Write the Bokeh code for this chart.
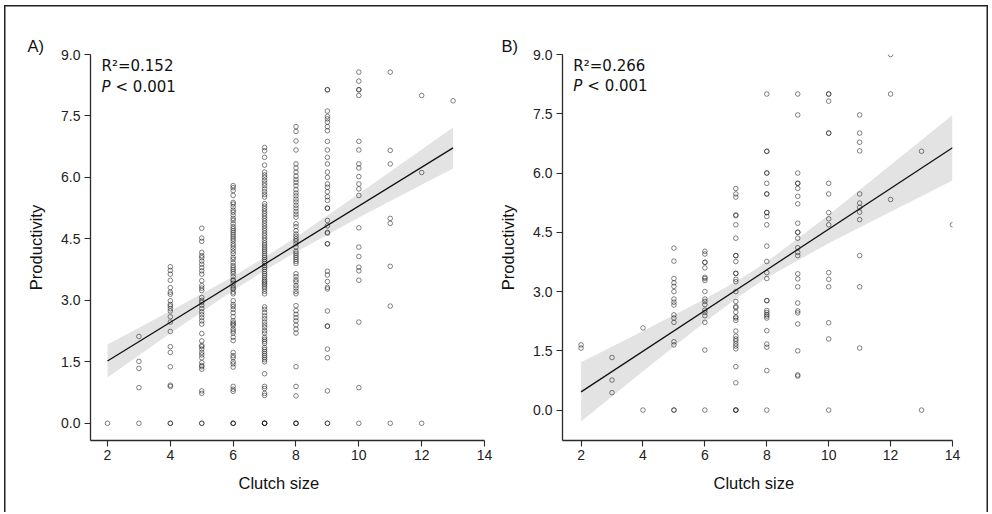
from bokeh.plotting import figure
from bokeh.layouts import row
from bokeh.models import Label, FixedTicker, NumeralTickFormatter, Title
from bokeh.embed import file_html
from bokeh.resources import INLINE

# ---------------- Panel A data (productivity by clutch size) ----------------
A_2 = [0.0]
A_3 = [0.0, 0.87, 1.34, 1.51, 2.12]
A_4 = [0.0, 0.0, 0.90, 0.93, 1.38, 1.73, 1.87, 2.24, 2.47, 2.60, 2.74, 2.80, 2.86,
       2.90, 2.99, 3.15, 3.20, 3.31, 3.49, 3.64, 3.73, 3.82]
A_5 = [0.0, 0.0, 0.73, 0.79, 1.32, 1.38, 1.41, 1.48, 1.60, 1.67, 1.73, 1.81, 1.87,
       1.90, 2.01, 2.19, 2.42, 2.50, 2.58, 2.65, 2.72, 2.80, 2.88, 2.95, 3.00, 3.07,
       3.24, 3.30, 3.36, 3.48, 3.64, 3.72, 3.80, 3.88, 3.96, 4.04, 4.09, 4.17, 4.44,
       4.52, 4.76]
A_6 = [0.0, 0.0, 0.0, 0.78, 0.83, 0.90, 1.37, 1.45, 1.50, 1.60, 1.65, 1.73, 2.02,
       2.10, 2.20, 2.25, 2.30, 2.38, 2.42, 2.45, 2.50, 2.60, 2.70, 2.78, 2.85, 2.90,
       2.99, 3.16, 3.20, 3.27, 3.30, 3.35, 3.42, 3.48, 3.50, 3.58, 3.65, 3.70, 3.75,
       3.80, 3.85, 3.92, 4.00, 4.05, 4.14, 4.20, 4.27, 4.33, 4.38, 4.45, 4.50, 4.55,
       4.60, 4.65, 4.70, 4.75, 4.80, 4.87, 4.95, 5.00, 5.08, 5.15, 5.20, 5.28, 5.35,
       5.39, 5.56, 5.68, 5.75, 5.80]
A_7 = [0.0, 0.0, 0.0, 0.0, 0.68, 0.73, 0.85, 0.90, 1.21, 1.50, 1.55, 1.60, 1.65,
       1.70, 1.75, 1.80, 1.85, 1.95, 2.00, 2.05, 2.10, 2.20, 2.26, 2.34, 2.40, 2.47,
       2.55, 2.62, 2.70, 2.78, 2.84, 3.16, 3.22, 3.28, 3.33, 3.38, 3.42, 3.46, 3.50,
       3.55, 3.60, 3.65, 3.70, 3.75, 3.80, 3.85, 3.90, 3.95, 4.00, 4.05, 4.10, 4.15,
       4.20, 4.25, 4.30, 4.35, 4.40, 4.46, 4.52, 4.58, 4.64, 4.70, 4.76, 4.82, 4.88,
       4.94, 5.00, 5.06, 5.12, 5.18, 5.24, 5.30, 5.36, 5.52, 5.58, 5.65, 5.72, 5.80,
       5.86, 5.93, 6.00, 6.06, 6.13, 6.30, 6.49, 6.65, 6.73]
A_8 = [0.0, 0.0, 0.0, 0.67, 0.90, 1.38, 2.20, 2.30, 2.40, 2.50, 2.58, 2.66, 2.75,
       2.87, 3.16, 3.22, 3.30, 3.36, 3.45, 3.50, 3.58, 3.65, 3.90, 3.95, 4.00, 4.05,
       4.10, 4.15, 4.20, 4.30, 4.38, 4.45, 4.50, 4.56, 4.62, 4.70, 4.80, 4.87, 5.03,
       5.10, 5.17, 5.25, 5.32, 5.40, 5.47, 5.55, 5.62, 5.70, 5.80, 5.88, 5.95, 6.03,
       6.13, 6.23, 6.33, 6.67, 6.89, 7.12, 7.24]
A_9 = [0.0, 0.0, 0.79, 1.60, 1.81, 2.37, 2.37, 2.74, 3.28, 3.32, 3.46, 3.62, 3.71,
       4.38, 4.38, 4.64, 4.66, 4.82, 4.95, 5.25, 5.25, 5.44, 5.53, 5.65, 5.76, 5.84,
       6.00, 6.13, 6.33, 6.49, 6.67, 6.88, 7.14, 7.24, 7.35, 7.43, 7.49, 7.62, 8.14,
       8.14]
A_10 = [0.0, 0.87, 2.47, 3.49, 3.72, 3.81, 4.07, 4.30, 4.77, 5.56, 5.72, 5.84, 6.02,
        6.23, 6.33, 6.67, 6.88, 8.00, 8.14, 8.14, 8.35, 8.57]
A_11 = [0.0, 2.86, 3.83, 4.88, 5.00, 6.33, 6.66, 8.57]
A_12 = [0.0, 6.12, 8.00]
A_13 = [7.87]

A_fit_x = [2, 13]
A_fit_y = [1.52, 6.72]
A_band_x = [2, 4, 6, 7, 8, 10, 12, 13]
A_band_lo = [1.12, 2.20, 3.24, 3.73, 4.18, 5.02, 5.82, 6.22]
A_band_hi = [1.92, 2.74, 3.58, 4.05, 4.54, 5.60, 6.68, 7.22]

# ---------------- Panel B data ----------------
B_2 = [1.57, 1.65]
B_3 = [0.44, 0.76, 1.33]
B_4 = [0.0, 2.08]
B_5 = [0.0, 0.0, 1.65, 1.73, 2.22, 2.33, 2.41, 2.66, 2.73, 2.81, 3.00, 3.13, 3.22,
       3.33, 3.77, 4.10]
B_6 = [0.0, 1.52, 2.22, 2.39, 2.47, 2.53, 2.67, 2.75, 2.81, 3.00, 3.28, 3.33, 3.36,
       3.60, 3.74, 3.74, 3.95, 4.02]
B_7 = [0.0, 0.0, 0.0, 0.69, 1.10, 1.55, 1.62, 1.68, 1.75, 1.80, 1.87, 2.00, 2.27,
       2.33, 2.36, 2.48, 2.59, 2.62, 2.75, 3.00, 3.25, 3.31, 3.46, 3.46, 3.76, 3.91,
       3.91, 4.35, 4.69, 4.92, 4.94, 5.39, 5.47, 5.61]
B_8 = [0.0, 1.00, 1.59, 1.67, 2.01, 2.33, 2.38, 2.42, 2.47, 2.52, 2.77, 2.77, 3.33,
       3.48, 3.76, 4.15, 4.69, 4.90, 5.00, 5.00, 5.47, 5.47, 5.74, 6.00, 6.00, 6.55,
       6.55, 8.00]
B_9 = [0.86, 0.89, 1.50, 2.18, 2.46, 2.51, 2.71, 3.12, 3.32, 3.45, 3.91, 3.99, 4.11,
       4.35, 4.50, 4.50, 4.73, 5.22, 5.41, 5.61, 5.74, 5.74, 6.00, 7.47, 8.00]
B_10 = [0.0, 1.80, 2.21, 3.12, 3.31, 3.48, 4.69, 4.84, 5.00, 5.47, 5.74, 7.01, 7.01,
        7.82, 8.00, 8.00]
B_11 = [1.57, 3.12, 3.91, 4.82, 5.01, 5.13, 5.24, 5.47, 6.56, 6.78, 7.01, 7.47]
B_12 = [5.33, 8.00, 9.00]
B_13 = [0.0, 6.55]
B_14 = [4.69]

B_fit_x = [2, 14]
B_fit_y = [0.46, 6.64]
B_band_x = [2, 4, 6, 7, 8, 10, 12, 14]
B_band_lo = [-0.29, 0.98, 2.23, 2.82, 3.35, 4.22, 5.02, 5.81]
B_band_hi = [1.21, 2.00, 2.81, 3.25, 3.75, 4.94, 6.20, 7.47]

x_ticks = [2, 4, 6, 8, 10, 12, 14]
y_ticks = [0.0, 1.5, 3.0, 4.5, 6.0, 7.5, 9.0]
x_label = "Clutch size"
y_label = "Productivity"

A_groups = {2: A_2, 3: A_3, 4: A_4, 5: A_5, 6: A_6, 7: A_7, 8: A_8, 9: A_9,
            10: A_10, 11: A_11, 12: A_12, 13: A_13}
B_groups = {2: B_2, 3: B_3, 4: B_4, 5: B_5, 6: B_6, 7: B_7, 8: B_8, 9: B_9,
            10: B_10, 11: B_11, 12: B_12, 13: B_13, 14: B_14}

SANS = "Liberation Sans"
VERD = "DejaVu Sans"
AX = "#2b2b2b"


def panel(tag, groups, fit_x, fit_y, bx, blo, bhi, r2, xr, yr, bl, br, tag_off,
          xlab_off):
    p = figure(width=496, height=512, x_range=xr, y_range=yr,
               output_backend="svg", toolbar_location=None,
               min_border_left=bl, min_border_right=br,
               min_border_top=54, min_border_bottom=72)
    p.outline_line_color = None
    p.grid.visible = False
    p.background_fill_color = "white"
    p.border_fill_color = None

    p.title.text = tag
    p.title.align = "left"
    p.title.offset = tag_off
    p.title.standoff = 0
    p.title.text_font = SANS
    p.title.text_font_size = "16.5px"
    p.title.text_font_style = "normal"
    p.title.text_color = "#111111"

    xs, ys = [], []
    for k, vals in groups.items():
        xs += [k] * len(vals)
        ys += vals

    p.varea(x=bx, y1=blo, y2=bhi, fill_color="#e3e3e3", fill_alpha=1.0)
    p.scatter(xs, ys, marker="circle", size=4.6, fill_color=None,
              line_color="#1a1a1a", line_alpha=0.6, line_width=0.9)
    p.line(fit_x, fit_y, line_color="#111111", line_width=1.3)

    for ax in (p.xaxis[0], p.yaxis[0]):
        ax.axis_line_color = AX
        ax.axis_line_width = 1.3
        ax.major_tick_line_color = AX
        ax.major_tick_line_width = 1.1
        ax.major_tick_out = 6
        ax.major_tick_in = 0
        ax.minor_tick_line_color = None
        ax.major_label_text_font = SANS
        ax.major_label_text_font_size = "14px"
        ax.major_label_text_color = "#222222"
        ax.axis_label_text_font = SANS
        ax.axis_label_text_font_size = "16.5px"
        ax.axis_label_text_font_style = "normal"
        ax.axis_label_text_color = "#111111"

    p.xaxis.ticker = FixedTicker(ticks=x_ticks)
    p.yaxis.ticker = FixedTicker(ticks=y_ticks)
    p.yaxis.formatter = NumeralTickFormatter(format="0.0")
    p.xaxis.major_label_standoff = 3
    p.yaxis.major_label_standoff = 4
    p.yaxis.axis_label = y_label
    p.yaxis.axis_label_standoff = 13

    # x-axis title, placed below the axis so it can be shifted horizontally
    p.add_layout(Title(text=x_label, align="left", offset=xlab_off,
                       standoff=19, text_font=SANS, text_font_size="16.5px",
                       text_font_style="normal", text_color="#111111"),
                 "below")

    p.add_layout(Label(x=xr[0] + 0.35, y=8.71, text="R²=" + r2, text_font=VERD,
                       text_font_size="15px", text_color="#111111",
                       text_baseline="alphabetic"))
    p.add_layout(Label(x=xr[0] + 0.35, y=8.21, text="P", text_font=VERD,
                       text_font_style="italic",
                       text_font_size="15px", text_color="#111111",
                       text_baseline="alphabetic"))
    p.add_layout(Label(x=xr[0] + 0.35, y=8.21, x_offset=14, text="< 0.001",
                       text_font=VERD, text_font_size="15px",
                       text_color="#111111", text_baseline="alphabetic"))
    return p


pA = panel("A)", A_groups, A_fit_x, A_fit_y, A_band_x, A_band_lo, A_band_hi,
           "0.152", (1.459, 14.0), (-0.42, 9.0), 90, 12, -63, 148)
pB = panel("B)", B_groups, B_fit_x, B_fit_y, B_band_x, B_band_lo, B_band_hi,
           "0.266", (1.40, 14.0), (-0.77, 9.0), 63, 40, -61, 151)

frame_style = {
    "box-shadow": ("inset 4px 0 0 0 #fff, inset 0 5px 0 0 #fff, "
                   "inset -4px 0 0 0 #fff, inset 5.5px 0 0 0 #222, "
                   "inset 0 6.5px 0 0 #222, inset -5.5px 0 0 0 #222"),
}
layout = row(pA, pB, styles=frame_style)

open("out.html", "w").write(file_html(layout, INLINE))
